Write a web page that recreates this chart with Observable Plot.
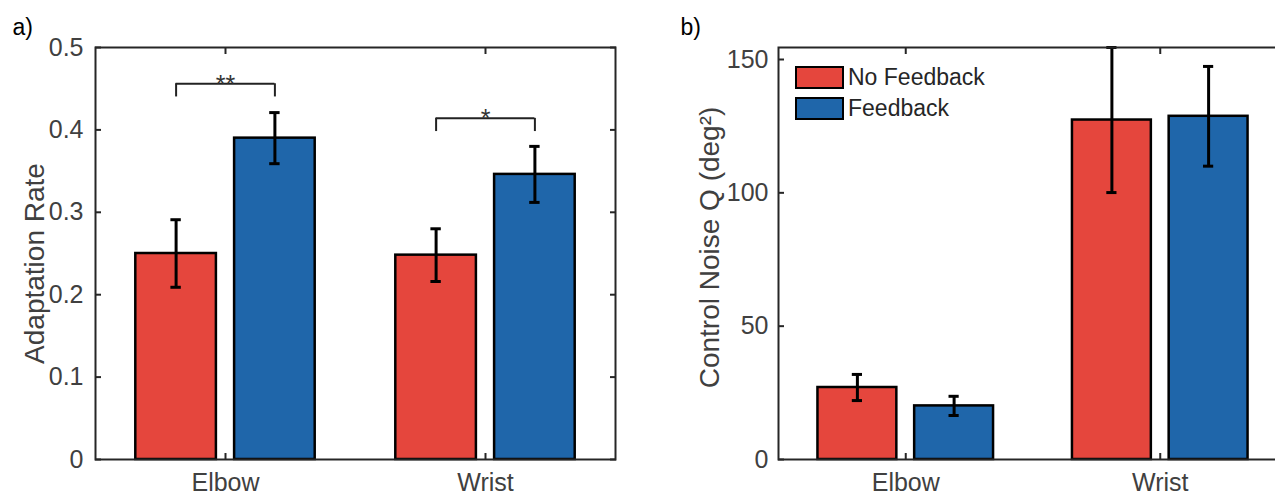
<!DOCTYPE html>
<html>
<head>
<meta charset="utf-8">
<script src="https://cdn.jsdelivr.net/npm/d3@7"></script>
<script src="https://cdn.jsdelivr.net/npm/@observablehq/plot@0.6"></script>
<style>
html,body{margin:0;padding:0;background:#fff;overflow:hidden}
#wrap{position:relative;width:1275px;height:496px;overflow:hidden;font-family:"Liberation Sans",Arial,sans-serif}
#pa{position:absolute;left:0;top:0;width:640px;height:496px}
#pb{position:absolute;left:640px;top:0;width:657px;height:496px}
#pa svg,#pb svg{max-width:none!important;display:block}
.leg{position:absolute;left:795px;height:23px;display:flex;align-items:center}
.sw{width:49px;height:23px;box-sizing:border-box;border:2.5px solid #000}
.lt{margin-left:4px;font-size:23px;color:#262626;line-height:23px}
</style>
</head>
<body>
<div id="wrap">
  <div id="pa"></div>
  <div id="pb"></div>
  <div id="legend"></div>
</div>
<script>
// ---- data ----
const groups = ["Elbow", "Wrist"];
const series = ["No Feedback", "Feedback"];
const colors = ["#E5463D", "#1F66AA"];

// Panel a: adaptation rate
const rateNoFb = [0.250, 0.248];
const rateNoFbErr = [0.041, 0.032];
const rateFb = [0.390, 0.346];
const rateFbErr = [0.031, 0.034];
const rateTicks = [0, 0.1, 0.2, 0.3, 0.4, 0.5];
const sigLabels = ["**", "*"];
const sigY = [0.456, 0.414];
const sigLeg = 0.016;

// Panel b: control noise Q
const noiseNoFb = [27.0, 127.3];
const noiseNoFbErr = [4.9, 27.2];
const noiseFb = [20.1, 128.7];
const noiseFbErr = [3.6, 18.7];
const noiseTicks = [0, 50, 100, 150];

// ---- helpers ----
const OFF = 0.19, BW = 0.31, CAP = 0.02;
const axisColor = "#262626";
const textColor = "#404040";

function rowsFrom(a, ae, b, be) {
  return groups.flatMap((g, i) => [
    {group: g, gi: i + 1, si: 0, mean: a[i], err: ae[i]},
    {group: g, gi: i + 1, si: 1, mean: b[i], err: be[i]}
  ]).map(d => ({...d, xc: d.gi + (d.si === 0 ? -OFF : OFF)}));
}

function panel({rows, yDomain, ticks, tickFmt, ylabel, ylabelDx, ylabelDy, width, marginLeft, marginRight, letter, letterDx, tickPad, extra = []}) {
  const caps = rows.flatMap(d => [{xc: d.xc, y: d.mean - d.err}, {xc: d.xc, y: d.mean + d.err}]);
  const svg = Plot.plot({
    width, height: 496,
    marginLeft, marginRight, marginTop: 47, marginBottom: 37,
    x: {domain: [0.5, 2.5]},
    y: {domain: yDomain},
    style: {fontFamily: "'Liberation Sans', Arial, sans-serif", fontSize: "25px", color: textColor, background: "transparent", overflow: "visible"},
    marks: [
      Plot.rect(rows, {x1: d => d.xc - BW / 2, x2: d => d.xc + BW / 2, y1: d => 0, y2: "mean",
        fill: d => colors[d.si], stroke: "#000", strokeWidth: 2.5}),
      Plot.ruleX(rows, {x: "xc", y1: d => d.mean - d.err, y2: d => d.mean + d.err, stroke: "#000", strokeWidth: 3}),
      Plot.ruleY(caps, {y: "y", x1: d => d.xc - CAP, x2: d => d.xc + CAP, stroke: "#000", strokeWidth: 3}),
      ...extra,
      Plot.frame({stroke: axisColor, strokeWidth: 2}),
      // tick labels
      Plot.axisY({ticks, tickSize: 0, tickPadding: tickPad, tickFormat: tickFmt, label: null, fontSize: 25, fill: textColor}),
      Plot.axisX({ticks: [1, 2], tickSize: 0, tickPadding: 14, tickFormat: i => groups[i - 1], label: null, fontSize: 25, fill: textColor}),
      // inward tick marks
      Plot.axisY({anchor: "left", ticks, tickSize: 6, dx: 6, tickFormat: () => "", label: null, stroke: axisColor, strokeWidth: 2}),
      Plot.axisY({anchor: "right", ticks, tickSize: 6, dx: -6, tickFormat: () => "", label: null, stroke: axisColor, strokeWidth: 2}),
      Plot.axisX({anchor: "bottom", ticks: [1, 2], tickSize: 6, dy: -6, tickFormat: () => "", label: null, stroke: axisColor, strokeWidth: 2}),
      Plot.axisX({anchor: "top", ticks: [1, 2], tickSize: 6, dy: 6, tickFormat: () => "", label: null, stroke: axisColor, strokeWidth: 2}),
      // y label
      Plot.text([ylabel], {frameAnchor: "left", text: d => d, rotate: -90, dx: ylabelDx, dy: ylabelDy, textAnchor: "middle", lineAnchor: "middle", fontSize: 28, fill: textColor}),
      // panel letter
      Plot.text([letter], {frameAnchor: "top-left", text: d => d, dx: letterDx, dy: -20, textAnchor: "start", lineAnchor: "middle", fontSize: 23, fill: "#000"})
    ]
  });
  svg.style.maxWidth = "none";
  return svg;
}

// ---- panel a ----
const rowsA = rowsFrom(rateNoFb, rateNoFbErr, rateFb, rateFbErr);
const sig = groups.map((g, i) => ({gi: i + 1, y: sigY[i], label: sigLabels[i]}));
const sigLegs = sig.flatMap(s => [{x: s.gi - OFF, y: s.y}, {x: s.gi + OFF, y: s.y}]);
const extraA = [
  Plot.ruleY(sig, {y: "y", x1: d => d.gi - OFF, x2: d => d.gi + OFF, stroke: "#222", strokeWidth: 2}),
  Plot.ruleX(sigLegs, {x: "x", y1: d => d.y - sigLeg, y2: "y", stroke: "#222", strokeWidth: 2}),
  Plot.text(sig, {x: "gi", y: "y", text: "label", lineAnchor: "bottom", dy: 9, fontSize: 25, fill: "#333"})
];
document.getElementById("pa").appendChild(panel({
  rows: rowsA, yDomain: [0, 0.5], ticks: rateTicks, tickFmt: d => String(d),
  ylabel: "Adaptation Rate", ylabelDx: -60, ylabelDy: 10, width: 640, marginLeft: 95, marginRight: 25,
  letter: "a)", letterDx: -83, tickPad: 12, extra: extraA
}));

// ---- panel b ----
const rowsB = rowsFrom(noiseNoFb, noiseNoFbErr, noiseFb, noiseFbErr);
const yMaxB = d3.max(rowsB, d => d.mean + d.err);
document.getElementById("pb").appendChild(panel({
  rows: rowsB, yDomain: [0, yMaxB], ticks: noiseTicks, tickFmt: d => String(d),
  ylabel: "Control Noise Q (deg²)", ylabelDx: -68, ylabelDy: -6, width: 657, marginLeft: 138, marginRight: 10,
  letter: "b)", letterDx: -98, tickPad: 10
}));

// ---- legend ----
const legend = document.getElementById("legend");
series.forEach((s, i) => {
  const row = document.createElement("div");
  row.className = "leg";
  row.style.top = (66 + i * 31) + "px";
  row.innerHTML = `<div class="sw" style="background:${colors[i]}"></div><div class="lt">${s}</div>`;
  legend.appendChild(row);
});
</script>
</body>
</html>
